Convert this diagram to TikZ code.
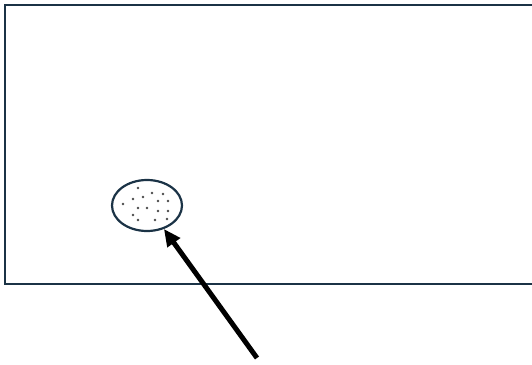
\documentclass[tikz,border=0pt]{standalone}
\usepackage{tikz}
\usepackage{xcolor}
\usetikzlibrary{shapes.geometric, arrows.meta, positioning}

\definecolor{frameblue}{HTML}{1B3346}
\definecolor{dotgray}{HTML}{4A4A4A}

\begin{document}
\begin{tikzpicture}[
    x=1pt, y=-1pt,
    frame/.style={draw=frameblue, line width=2.4pt},
    spot/.style={ellipse, draw=frameblue, line width=2.2pt, minimum width=70pt, minimum height=51pt, inner sep=0pt},
    grain/.style={fill=dotgray, circle, inner sep=0pt, minimum size=2.6pt},
    pointer/.style={-{Triangle[length=17pt, width=15pt]}, line width=5pt, black}
]
\useasboundingbox (0,0) rectangle (532,364);

% open frame, right side runs off the page
\draw[frame] (532,5) -- (5,5) -- (5,284) -- (532,284);

\node[spot] (spot) at (147,205.5) {};
\foreach \px/\py in {138/188, 123/204, 133/199, 143/197, 152/193, 163/194, 158/201, 168/201,
                     138/208, 147/208, 158/211, 168/211, 133/215, 138/220, 155/220, 167/219}
  \node[grain] at (\px,\py) {};

\coordinate (tail) at (257,358);
\draw[pointer] (tail) -- (spot);

\end{tikzpicture}
\end{document}
